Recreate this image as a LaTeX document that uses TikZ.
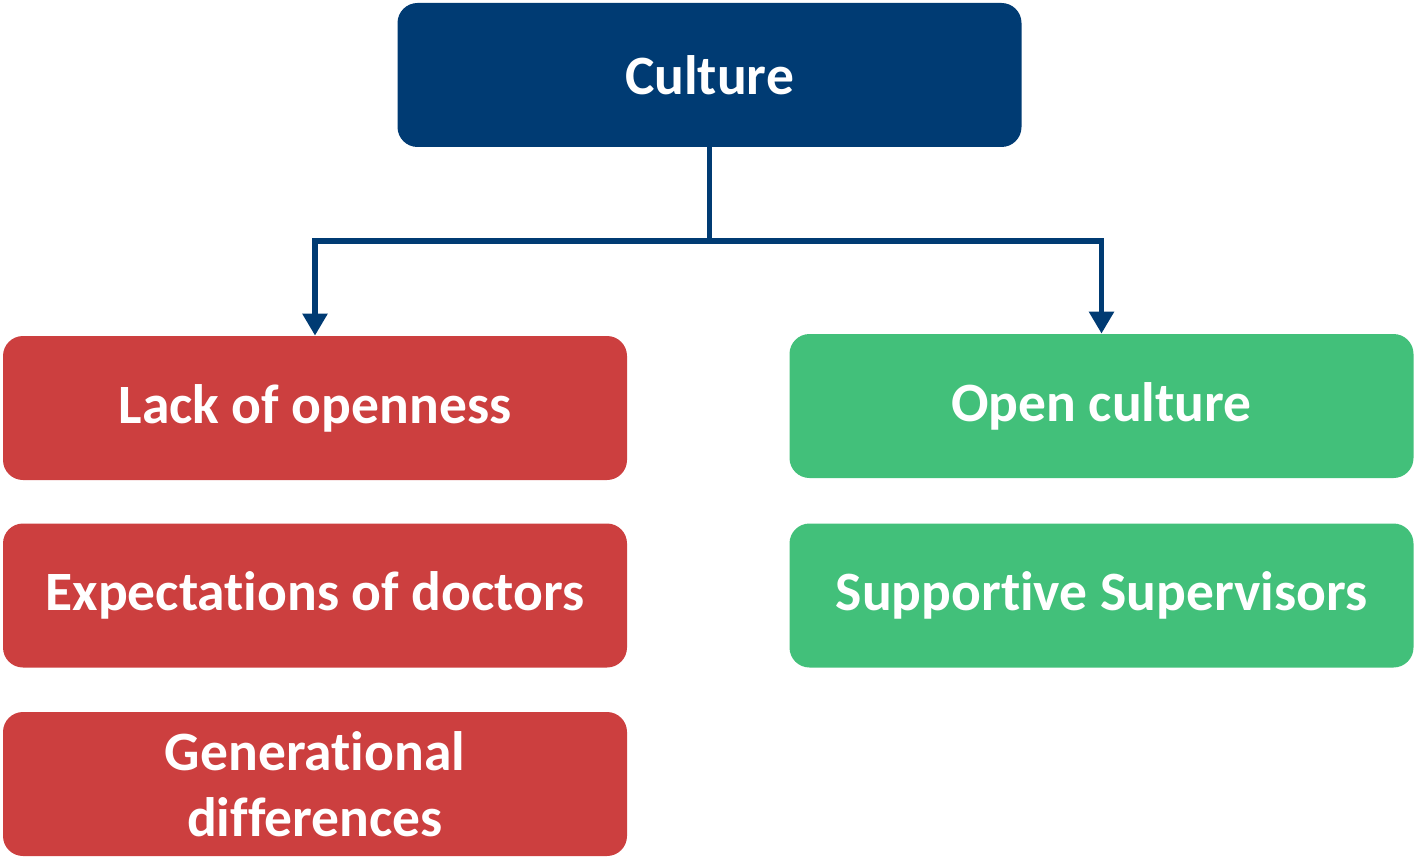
\documentclass[tikz,border=0pt]{standalone}
\usepackage{fontspec}
\setmainfont[Ligatures=NoCommon]{Carlito}
\usetikzlibrary{arrows.meta}
\definecolor{cultblue}{HTML}{003B73}
\definecolor{barred}{HTML}{CC3F3F}
\definecolor{helpgreen}{HTML}{42C07A}
\begin{document}
\begin{tikzpicture}
            [box/.style = {rounded corners = 0.4cm, minimum width = 12.48cm, minimum height = 2.88cm,
                           text = white, font = \fontsize{31.6}{37.5}\selectfont\bfseries, align = center},
             link/.style = {draw = cultblue, line width = 0.11cm, -{Triangle[width=0.48cm, length=0.44cm]}}]
            \useasboundingbox (0,0) rectangle (28.32,17.22);
            \node[box, fill=cultblue] (culture) at (14.19,15.72) {Culture};
            \node[box, fill=barred] (lack) at (6.3,9.06) {Lack of openness};
            \node[box, fill=barred] (expect) at (6.3,5.31) {Expectations of doctors};
            \node[box, fill=barred] (gener) at (6.3,1.54) {Generational\\differences};
            \node[box, fill=helpgreen] (open) at (22.03,9.10) {Open culture};
            \node[box, fill=helpgreen] (support) at (22.03,5.31) {Supportive Supervisors};
            \coordinate (split) at (culture.south |- 0,12.4);
            \draw[draw=cultblue, line width=0.11cm] (culture.south) -- (split);
            \draw[link] (split) -| (lack.north);
            \draw[link] (split) -| (open.north);
        \end{tikzpicture}
\end{document}
